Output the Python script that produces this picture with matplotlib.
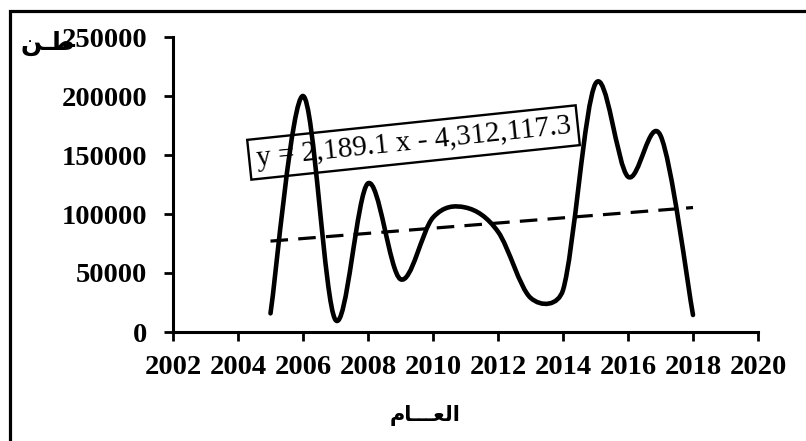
import numpy as np
import matplotlib
matplotlib.use("Agg")
import matplotlib.pyplot as plt
from matplotlib.path import Path
from matplotlib.patches import PathPatch, Rectangle

# data (tonnes per year)
years = [2005, 2006, 2007, 2008, 2009, 2010, 2011, 2012, 2013, 2014, 2015, 2016, 2017, 2018]
tonnes = [15800, 200000, 10200, 126000, 44700, 97000, 105500, 85000, 29000, 35500,
          210500, 131600, 166500, 14400]

# trendline as printed on the chart
slope = 2189.1
intercept = -4312117.3
eqText = "y = 2,189.1 x - 4,312,117.3"

xTicks = list(range(2002, 2021, 2))
yTicks = [0, 50000, 100000, 150000, 200000, 250000]

# arabic labels, written in presentation forms (visual order) so they join
yLabel = "\ufee6\u0640\ufec3"          # طـن
xLabel = "\ufee1\ufe8e\u0640\u0640\u0640\ufecc\ufedf\ufe8d"   # العــام

serif = ["Liberation Serif", "DejaVu Serif"]
arabicFont = ["DejaVu Sans"]

# pixels per data unit, used so the smoothing works in screen space
pxPerYear = 32.5
pxPerTonne = 1.18 / 1000


def smoothPath(xs, ys):
    # excel-like smoothed line: catmull-rom beziers, control arms capped
    # at half of the segment so flat parts next to big jumps stay flat
    pts = np.column_stack([np.array(xs) * pxPerYear, np.array(ys) * pxPerTonne])
    n = len(pts)
    out = [pts[0]]
    codes = [Path.MOVETO]
    for i in range(n - 1):
        p0 = pts[max(i - 1, 0)]
        p1 = pts[i]
        p2 = pts[i + 1]
        p3 = pts[min(i + 2, n - 1)]
        seg = np.linalg.norm(p2 - p1)
        t1 = (p2 - p0) / 6.0
        t2 = (p3 - p1) / 6.0
        if np.linalg.norm(t1) > seg / 2:
            t1 = t1 / np.linalg.norm(t1) * seg / 2
        if np.linalg.norm(t2) > seg / 2:
            t2 = t2 / np.linalg.norm(t2) * seg / 2
        out += [p1 + t1, p2 - t2, p2]
        codes += [Path.CURVE4] * 3
    out = np.array(out)
    out[:, 0] /= pxPerYear
    out[:, 1] /= pxPerTonne
    return Path(out, codes)


fig = plt.figure(figsize=(8.06, 4.41), dpi=100)
ax = fig.add_axes([173 / 806, 1 - 332 / 441, (758 - 173) / 806, (332 - 37) / 441])

curve = PathPatch(smoothPath(years, tonnes), facecolor="none", edgecolor="black",
                  lw=3.3, capstyle="round", joinstyle="round", zorder=4)
ax.add_patch(curve)

trendX = np.array([years[0], years[-1]])
ax.plot(trendX, slope * trendX + intercept, color="black", lw=2.3,
        dashes=(5.5, 3.2), zorder=3)

ax.text(2009.4, 160600, eqText, rotation=6, rotation_mode="anchor",
        ha="center", va="center", fontsize=21, family=serif, zorder=2,
        bbox=dict(boxstyle="square,pad=0.24", facecolor="none",
                  edgecolor="black", lw=1.7))

ax.set_xlim(2002, 2020)
ax.set_ylim(0, 250000)
ax.set_xticks(xTicks)
ax.set_yticks(yTicks)
ax.set_xticklabels([str(t) for t in xTicks], fontsize=20.5, fontweight="bold", family=serif)
ax.set_yticklabels([str(t) for t in yTicks], fontsize=20.5, fontweight="bold", family=serif)
ax.tick_params(axis="both", direction="out", length=6.5, width=2, color="black")
ax.tick_params(axis="y", pad=12)
ax.tick_params(axis="x", pad=10)

ax.spines["top"].set_visible(False)
ax.spines["right"].set_visible(False)
for s in ["left", "bottom"]:
    ax.spines[s].set_linewidth(2.2)

fig.text(48 / 806, 1 - 43 / 441, yLabel, ha="center", va="center",
         fontsize=18, fontweight="bold", family=arabicFont)
fig.text(425 / 806, 1 - 415 / 441, xLabel, ha="center", va="center",
         fontsize=15, fontweight="bold", family=arabicFont)

# outer frame, only its top and left edges fall inside the picture
frame = Rectangle((10 / 806, -0.2), 1.2, 0.2 + 1 - 10.5 / 441,
                  transform=fig.transFigure, fill=False, edgecolor="black", lw=2.3)
fig.patches.append(frame)

plt.savefig("out.png", dpi=100)
